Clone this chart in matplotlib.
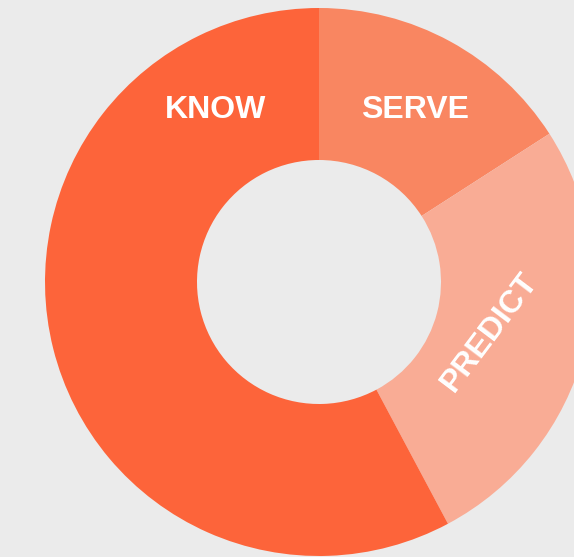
import matplotlib.pyplot as plt
import numpy as np

# segment shares (clockwise from 12 o'clock)
segments = ['SERVE', 'PREDICT', 'KNOW']
shares = [15.9, 26.3, 57.8]
colors = ['#F98661', '#F9AC95', '#FD643A']

# label placement in pixel coords (x, y from top) and rotation
label_pos = {'SERVE': (415, 110, 0), 'PREDICT': (490, 332, 53), 'KNOW': (216, 110, 0)}

W, H = 574, 557
bg = '#EBEBEB'

fig = plt.figure(figsize=(W / 100, H / 100), dpi=100, facecolor=bg)
ax = fig.add_axes([0, 0, 1, 1])
ax.set_facecolor(bg)

ax.pie(shares, colors=colors, startangle=90, counterclock=False,
       center=(319, H - 282), radius=274,
       wedgeprops=dict(width=152, linewidth=0))

for name in segments:
    x, y, rot = label_pos[name]
    ax.text(x, H - y, name, color='white', fontsize=23, fontweight='bold',
            family=['Liberation Sans', 'DejaVu Sans'],
            ha='center', va='center', rotation=rot, rotation_mode='anchor')

ax.set_xlim(0, W)
ax.set_ylim(0, H)
ax.set_aspect('equal')
ax.axis('off')

fig.savefig('out.png', dpi=100, facecolor=bg)
